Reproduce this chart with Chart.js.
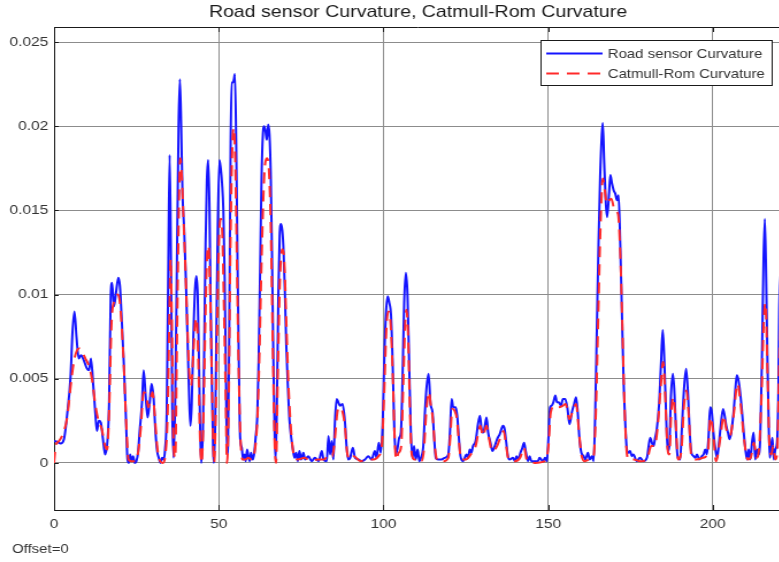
<!DOCTYPE html>
<html>
<head>
<meta charset="utf-8">
<title>Road sensor Curvature, Catmull-Rom Curvature</title>
<script src="https://cdn.jsdelivr.net/npm/chart.js@4/dist/chart.umd.min.js"></script>
<style>
  html, body { margin: 0; padding: 0; background: #fff; overflow: hidden; }
  #wrap { width: 790px; height: 562px; overflow: hidden; }
</style>
</head>
<body>
<div id="wrap">
  <!-- drawn narrower and stretched a little in x, like the original figure export -->
  <canvas id="curv" width="687" height="562" style="width:790px;height:562px"></canvas>
</div>
<script>
// Road sensor curvature vs Catmull-Rom curvature, offset 0.

const TITLE = "Road sensor Curvature, Catmull-Rom Curvature";
const SERIES_NAMES = ["Road sensor Curvature", "Catmull-Rom Curvature"];
const FOOTNOTE = "Offset=0";

const X_TICKS = [0, 50, 100, 150, 200];
const Y_TICKS = [0, 0.005, 0.01, 0.015, 0.02, 0.025];
const Y_TICK_LABELS = ["0", "0.005", "0.01", "0.015", "0.02", "0.025"];

// Road sensor curvature (blue, solid)
const sensorX = [
  0, 1, 2, 3, 4, 5, 5.6, 6.2, 6.8, 7.5, 8.2, 9, 10, 10.6, 11.2, 11.9, 12.5, 13, 13.6, 14.2,
  14.8, 15.5, 16.2, 16.7, 17.2, 17.6, 18.2, 18.8, 19.5, 20, 20.6, 21.2, 21.8, 22.3, 22.7, 23.1,
  23.5, 24, 24.5, 25, 25.5, 26, 26.7, 27.2, 27.8, 28.4, 29, 29.6, 30.2, 30.8, 31.3, 31.8, 32.3,
  32.8, 33.3, 33.7, 34.2, 34.7, 35.1, 35.5, 35.9, 36.3, 36.8, 37.3, 37.8, 38.2, 38.6, 39.0,
  39.5, 40.0, 40.5, 41.0, 41.4, 41.8, 42.3, 42.8, 43.2, 43.6, 44.0, 44.4, 44.7, 45.2, 45.6,
  46.0, 46.4, 46.8, 47.2, 47.5, 47.9, 48.3, 48.5, 48.9, 49.3, 49.7, 50.2, 50.6, 51.0, 51.4,
  51.8, 52.2, 52.5, 52.8, 53.2, 53.6, 53.9, 54.3, 54.6, 54.9, 55.3, 55.7, 56.1, 56.5, 57.0,
  57.4, 57.8, 58.2, 58.6, 59.0, 59.4, 59.8, 60.3, 60.8, 61.2, 61.7, 62.1, 62.6, 63.0, 63.4,
  63.8, 64.2, 64.6, 65.0, 65.4, 65.8, 66.2, 66.6, 67.0, 67.3, 67.7, 68.1, 68.5, 68.9, 69.3,
  69.7, 70.1, 70.5, 71.0, 71.5, 72.0, 72.5, 73.0, 73.5, 74.0, 74.5, 75.0, 75.7, 76.2, 77.2,
  78.2, 79.2, 80.3, 81.3, 81.8, 82.8, 83.3, 83.8, 84.3, 84.8, 85.3, 85.8, 86.3, 86.8, 87.6,
  88.3, 88.8, 89.3, 89.9, 90.7, 91.4, 92.4, 93.4, 94.4, 95.4, 96.4, 97.4, 97.9, 98.6, 99.2,
  99.8, 100.3, 100.8, 101.3, 101.8, 102.3, 102.8, 103.3, 103.8, 104.3, 104.8, 105.3, 105.8,
  106.3, 106.8, 107.3, 107.8, 108.3, 108.8, 109.3, 109.8, 110.4, 110.9, 111.4, 112.1, 112.6,
  113.1, 113.7, 114.3, 114.9, 115.4, 115.9, 116.6, 117.6, 118.6, 119.7, 120.2, 120.7, 121.2,
  121.9, 122.4, 122.9, 123.4, 124.2, 125.2, 125.7, 126.2, 126.7, 127.2, 128.0, 128.7, 129.3,
  129.8, 130.3, 130.8, 131.3, 131.8, 132.5, 133.1, 133.8, 134.5, 135.3, 136.3, 136.8, 137.3,
  137.8, 138.3, 139.3, 139.9, 140.4, 140.9, 141.6, 142.2, 142.7, 143.2, 143.9, 144.4, 144.9,
  145.9, 146.9, 147.4, 148.4, 149.1, 149.6, 150.1, 150.6, 151.1, 151.6, 152.2, 152.7, 153.2,
  153.9, 154.5, 155.2, 155.9, 156.5, 157.2, 157.9, 158.5, 159.0, 159.5, 160.1, 160.8, 161.3,
  162.1, 162.6, 163.3, 163.8, 164.3, 164.8, 165.3, 165.8, 166.3, 166.6, 167.0, 167.5, 167.9,
  168.5, 168.9, 169.4, 169.9, 170.4, 170.9, 171.4, 171.9, 172.4, 172.9, 173.4, 173.9, 174.4,
  174.9, 175.4, 175.9, 176.9, 177.9, 179.0, 180.0, 181.0, 181.5, 182.0, 182.5, 183.0, 183.7,
  184.3, 184.8, 185.3, 185.8, 186.3, 186.8, 187.3, 187.9, 188.4, 188.9, 189.4, 190.1, 190.6,
  191.3, 191.9, 192.5, 193.0, 193.5, 194.2, 194.7, 195.2, 195.9, 196.7, 197.2, 197.7, 198.2,
  198.7, 199.2, 199.7, 200.2, 200.8, 201.3, 201.8, 202.3, 203.1, 203.6, 204.1, 204.6, 205.1,
  205.6, 206.3, 206.9, 207.3, 207.8, 208.3, 208.9, 209.4, 209.9, 210.4, 210.9, 211.4, 211.9,
  212.4, 212.9, 213.4, 213.9, 214.4, 214.9, 215.4, 215.8, 216.2, 216.6, 217.0, 217.3, 217.7,
  218.1, 218.5, 219.0, 219.5, 219.9, 220.2, 220.6, 221.2
];
const sensorY = [
  0.0013, 0.00125, 0.00115, 0.0014, 0.0029, 0.0051, 0.0078, 0.0090, 0.0075, 0.0062, 0.0064,
  0.0061, 0.0056, 0.0055, 0.0062, 0.0046, 0.0030, 0.0019, 0.0025, 0.0024, 0.0015, 0.0005,
  0.0013, 0.0035, 0.0099, 0.0107, 0.0093, 0.0101, 0.0110, 0.0105, 0.0083, 0.0058, 0.0028,
  0.0002, 0.0000, 0.0005, 0.0001, 0.0004, 0.0000, 0.0001, 0.0006, 0.0019, 0.0036, 0.0055,
  0.0040, 0.0027, 0.0035, 0.0047, 0.0039, 0.0018, 0.0007, 0.0003, 0.0000, 0.0003, 0.0002,
  0.0008, 0.0030, 0.0120, 0.0183, 0.0120, 0.0030, 0.0003, 0.0040, 0.0120, 0.0200, 0.0228,
  0.0200, 0.0160, 0.0139, 0.0110, 0.0075, 0.0040, 0.0022, 0.0035, 0.0075, 0.0103, 0.0111,
  0.0100, 0.0060, 0.0015, 0.0000, 0.0020, 0.0070, 0.0130, 0.0168, 0.0180, 0.0150, 0.0100,
  0.0050, 0.0008, 0.0000, 0.0020, 0.0080, 0.0140, 0.0180, 0.0175, 0.0166, 0.0150, 0.0110,
  0.0050, 0.0005, 0.0010, 0.0080, 0.0188, 0.0226, 0.0226, 0.0228, 0.0231, 0.0190, 0.0120,
  0.0060, 0.0015, 0.0009, 0.0002, 0.0005, 0.0001, 0.0008, 0.0004, 0.0001, 0.0006, 0.0002,
  0.0006, 0.0015, 0.0028, 0.0060, 0.0120, 0.0170, 0.0195, 0.0200, 0.0197, 0.0192, 0.0201,
  0.0195, 0.0170, 0.0120, 0.0060, 0.0015, 0.0002, 0.0040, 0.0100, 0.0135, 0.0142, 0.0138,
  0.0125, 0.0100, 0.0070, 0.0045, 0.0025, 0.0015, 0.0008, 0.0003, 0.0006, 0.0001, 0.0007,
  0.0002, 0.0006, 0.0002, 0.0004, 0.0001, 0.0003, 0.0001, 0.0007, 0.0002, 0.0001, 0.0016,
  0.0005, 0.0013, 0.0002, 0.0025, 0.0038, 0.0036, 0.0034, 0.0035, 0.0025, 0.0010, 0.0002,
  0.0003, 0.0009, 0.0003, 0.0002, 0.0001, 0.0002, 0.0004, 0.0002, 0.0007, 0.0003, 0.0012,
  0.0006, 0.0025, 0.0065, 0.0090, 0.0099, 0.0095, 0.0088, 0.0060, 0.0020, 0.0005, 0.0009,
  0.0015, 0.0018, 0.0050, 0.0095, 0.0113, 0.0100, 0.0060, 0.0020, 0.0003, 0.0010, 0.0002,
  0.0008, 0.0001, 0.0003, 0.0010, 0.0030, 0.0045, 0.0053, 0.0035, 0.0030, 0.0015, 0.0003,
  0.0002, 0.0002, 0.0003, 0.0005, 0.0018, 0.0038, 0.0033, 0.0033, 0.0028, 0.0015, 0.0004,
  0.0001, 0.0005, 0.0003, 0.0008, 0.0006, 0.0010, 0.0013, 0.0023, 0.0028, 0.0020, 0.0018,
  0.0022, 0.0027, 0.0018, 0.0012, 0.0007, 0.0010, 0.0014, 0.0017, 0.0022, 0.0020, 0.0012,
  0.0004, 0.0002, 0.0003, 0.0001, 0.0004, 0.0002, 0.0006, 0.0009, 0.0012, 0.0007, 0.0001,
  0.0004, 0.0001, 0.0001, 0.0001, 0.0003, 0.0001, 0.0003, 0.0001, 0.0015, 0.0033, 0.0034,
  0.0036, 0.0040, 0.0036, 0.0036, 0.0034, 0.0038, 0.0038, 0.0032, 0.0023, 0.0030, 0.0035,
  0.0039, 0.0030, 0.0015, 0.0006, 0.0004, 0.0002, 0.0006, 0.0002, 0.0004, 0.0001, 0.0030,
  0.0080, 0.0130, 0.0170, 0.0195, 0.0202, 0.0180, 0.0155, 0.0146, 0.0160, 0.0171, 0.0166,
  0.0162, 0.0160, 0.0156, 0.0159, 0.0130, 0.0090, 0.0050, 0.0025, 0.0008, 0.0006, 0.0007,
  0.0004, 0.0005, 0.0001, 0.0003, 0.0001, 0.0003, 0.0015, 0.0012, 0.0010, 0.0015, 0.0020,
  0.0035, 0.0060, 0.0079, 0.0060, 0.0030, 0.0007, 0.0010, 0.0040, 0.0053, 0.0040, 0.0015,
  0.0003, 0.0002, 0.0020, 0.0045, 0.0056, 0.0040, 0.0018, 0.0006, 0.0004, 0.0003, 0.0005,
  0.0002, 0.0004, 0.0005, 0.0008, 0.0005, 0.0015, 0.0033, 0.0030, 0.0018, 0.0008, 0.0003,
  0.0010, 0.0020, 0.0032, 0.0028, 0.0022, 0.0018, 0.0014, 0.0018, 0.0030, 0.0045, 0.0052,
  0.0049, 0.0042, 0.0030, 0.0018, 0.0008, 0.0002, 0.0008, 0.0002, 0.0012, 0.0018, 0.0002,
  0.0008, 0.0005, 0.0015, 0.0060, 0.0120, 0.0145, 0.0110, 0.0060, 0.0020, 0.0003, 0.0010,
  0.0015, 0.0002, 0.0008, 0.0012, 0.0040, 0.0093, 0.0110, 0.0125
];

// Catmull-Rom curvature (red, dashed)
const catmullX = [
  0, 0.5, 1.5, 3, 4, 5, 6, 7, 7.7, 8.5, 9.5, 10.5, 11.5, 12.5, 13.5, 14.5, 15.5, 16.1, 16.7,
  17.5, 18.5, 19.3, 20, 21, 22, 22.6, 23.5, 24.5, 25.5, 26.3, 27.2, 28, 28.6, 29.3, 29.9, 30.5,
  31.3, 32, 33, 33.8, 34.5, 35.0, 35.4, 35.8, 36.3, 36.8, 37.3, 37.8, 38.3, 38.8, 39.3, 39.8,
  40.5, 41.0, 41.6, 42.3, 42.8, 43.3, 43.8, 44.3, 44.8, 45.4, 45.9, 46.4, 46.9, 47.4, 47.9,
  48.6, 49.2, 49.7, 50.2, 50.6, 51.1, 51.6, 52.1, 52.5, 53.0, 53.5, 54.0, 54.5, 55.0, 55.5,
  56.0, 56.6, 57.2, 58, 59, 60, 61, 61.7, 62.3, 63, 63.8, 64.6, 65.2, 65.8, 66.4, 67.0, 67.4,
  68.0, 68.6, 69.3, 69.9, 70.5, 71.2, 72.0, 73.0, 74, 76, 78, 80, 82, 83.5, 84.5, 85.3, 86.0,
  86.6, 87.5, 88.3, 89.0, 90, 91, 93, 95, 97, 98.5, 99.5, 100.2, 100.9, 101.5, 102.1, 102.8,
  103.4, 103.9, 104.6, 105.4, 106.0, 106.6, 107.0, 107.5, 108.0, 108.6, 109.5, 110.5, 111.5,
  112.3, 113.0, 113.8, 114.4, 115.0, 115.7, 116.5, 118, 119.7, 120.3, 120.9, 121.6, 122.3,
  122.9, 123.6, 125, 126.5, 128, 128.8, 129.4, 130.2, 131.3, 132, 133, 134.5, 135.5, 136.5,
  137.2, 138, 140, 141.5, 142.7, 143.5, 146, 149, 150.1, 150.8, 152.0, 153.2, 154.5, 155.3,
  156.5, 157.5, 158.5, 159.3, 160.1, 161, 162.5, 163.8, 164.5, 165.2, 165.9, 166.6, 167.2,
  167.8, 168.5, 169.2, 170.2, 171.2, 171.9, 172.5, 173.1, 173.8, 174.5, 176, 178, 180, 181.3,
  182.3, 183.2, 184.2, 184.9, 185.5, 186.2, 186.8, 187.4, 188.0, 188.6, 189.5, 190.5, 191.3,
  192.0, 192.7, 193.5, 195, 197, 198.5, 199.3, 200.0, 201.0, 202.3, 203.3, 204.1, 205.2,
  206.3, 207.5, 208.4, 209.5, 210.6, 211.5, 212.5, 213.3, 214.0, 214.8, 215.5, 216.0, 216.6,
  217.2, 217.8, 218.3, 219.0, 219.6, 220.2, 220.8, 221.2
];
const catmullY = [
  0, 0.0010, 0.0013, 0.0019, 0.0027, 0.0045, 0.0060, 0.0067, 0.0068, 0.0066, 0.0062, 0.0058,
  0.0050, 0.0035, 0.0025, 0.0020, 0.0010, 0.0008, 0.0030, 0.0085, 0.0097, 0.0100, 0.0095,
  0.0065, 0.0020, 0.0002, 0.0001, 0.0001, 0.0006, 0.0020, 0.0042, 0.0040, 0.0033, 0.0038,
  0.0042, 0.0030, 0.0010, 0.0002, 0, 0.0005, 0.0030, 0.0085, 0.0121, 0.0080, 0.0010, 0.0003,
  0.0070, 0.0140, 0.0181, 0.0170, 0.0145, 0.0120, 0.0080, 0.0055, 0.0046, 0.0065, 0.0082,
  0.0086, 0.0060, 0.0015, 0, 0.0030, 0.0080, 0.0120, 0.0129, 0.0100, 0.0050, 0, 0.0040,
  0.0100, 0.0138, 0.0145, 0.0135, 0.0090, 0.0040, 0.0000, 0.0030, 0.0120, 0.0180, 0.0199,
  0.0180, 0.0120, 0.0060, 0.0015, 0.0002, 0.0002, 0.0003, 0.0002, 0.0008, 0.0025, 0.0060,
  0.0120, 0.0170, 0.0181, 0.0175, 0.0140, 0.0070, 0.0010, 0, 0.0060, 0.0110, 0.0127, 0.0120,
  0.0085, 0.0045, 0.0018, 0.0003, 0.0002, 0.0003, 0.0001, 0.0002, 0.0002, 0.0005, 0.0004,
  0.0015, 0.0030, 0.0033, 0.0031, 0.0022, 0.0006, 0.0002, 0.0004, 0.0001, 0.0002, 0.0002,
  0.0004, 0.0010, 0.0040, 0.0080, 0.0090, 0.0085, 0.0055, 0.0015, 0.0002, 0.0006, 0.0010,
  0.0045, 0.0082, 0.0091, 0.0075, 0.0035, 0.0005, 0.0002, 0.0003, 0.0001, 0.0008, 0.0030,
  0.0042, 0.0034, 0.0026, 0.0008, 0.0001, 0.0001, 0.0003, 0.0015, 0.0032, 0.0031, 0.0026,
  0.0013, 0.0002, 0.0002, 0.0005, 0.0010, 0.0018, 0.0022, 0.0016, 0.0022, 0.0015, 0.0007,
  0.0010, 0.0015, 0.0019, 0.0011, 0.0002, 0.0001, 0.0003, 0.0009, 0.0002, 0, 0.0001, 0.0010,
  0.0030, 0.0034, 0.0033, 0.0034, 0.0035, 0.0026, 0.0031, 0.0035, 0.0020, 0.0005, 0.0001,
  0.0002, 0.0004, 0.0030, 0.0085, 0.0140, 0.0169, 0.0162, 0.0154, 0.0156, 0.0157, 0.0150,
  0.0148, 0.0125, 0.0085, 0.0040, 0.0008, 0.0002, 0.0002, 0.0001, 0.0002, 0.0010, 0.0010,
  0.0020, 0.0045, 0.0060, 0.0042, 0.0010, 0.0005, 0.0030, 0.0039, 0.0028, 0.0002, 0.0008,
  0.0035, 0.0043, 0.0028, 0.0004, 0.0002, 0.0003, 0.0006, 0.0027, 0.0020, 0.0001, 0.0015,
  0.0028, 0.0020, 0.0016, 0.0028, 0.0047, 0.0036, 0.0014, 0.0002, 0.0003, 0.0012, 0.0003,
  0.0008, 0.0040, 0.0085, 0.0095, 0.0055, 0.0010, 0.0005, 0.0010, 0.0002, 0.0008, 0.0060,
  0.0085, 0.0095
];

const BLUE = "#1414ff";
const RED = "#ff2a2a";
const RED_DASH = [11, 7];
const LINE_W = 2;
const TEXT = "#333333";
const FONT = '"Liberation Sans", Arial, sans-serif';

function toPoints(xs, ys) {
  return xs.map((x, i) => ({ x, y: ys[i] }));
}

// Title, boxed axes, inward ticks, legend and footnote in MATLAB style.
const figureDecor = {
  id: "figureDecor",
  afterDatasetsDraw(chart) {
    const { ctx, chartArea: a, scales } = chart;
    ctx.save();

    // top edge of the axes box
    ctx.strokeStyle = "#1a1a1a";
    ctx.lineWidth = 1;
    ctx.beginPath();
    ctx.moveTo(a.left, Math.round(a.top) + 0.5);
    ctx.lineTo(a.right, Math.round(a.top) + 0.5);
    ctx.stroke();

    // inward tick marks
    ctx.beginPath();
    for (const v of X_TICKS) {
      const px = Math.round(scales.x.getPixelForValue(v)) + 0.5;
      ctx.moveTo(px, a.bottom); ctx.lineTo(px, a.bottom - 5);
      ctx.moveTo(px, a.top); ctx.lineTo(px, a.top + 5);
    }
    for (const v of Y_TICKS) {
      const py = Math.round(scales.y.getPixelForValue(v)) + 0.5;
      ctx.moveTo(a.left, py); ctx.lineTo(a.left + 4, py);
    }
    ctx.stroke();

    // legend, inside the axes, top right
    const lx = 470.5, ly = 40.5, lw = 201, lh = 45;
    ctx.fillStyle = "#fff";
    ctx.fillRect(lx, ly, lw, lh);
    ctx.strokeStyle = "#1a1a1a";
    ctx.strokeRect(lx, ly, lw, lh);

    const rows = [
      { y: 53.5, color: BLUE, dash: [] },
      { y: 73.5, color: RED, dash: RED_DASH },
    ];
    rows.forEach((r, i) => {
      ctx.strokeStyle = r.color;
      ctx.lineWidth = LINE_W;
      ctx.setLineDash(r.dash);
      ctx.beginPath();
      ctx.moveTo(475, r.y);
      ctx.lineTo(524, r.y);
      ctx.stroke();
      ctx.setLineDash([]);
      ctx.fillStyle = TEXT;
      ctx.font = "13px " + FONT;
      ctx.textAlign = "left";
      ctx.textBaseline = "middle";
      ctx.fillText(SERIES_NAMES[i], 528.5, r.y + 0.5);
    });
    ctx.restore();
  },
  afterDraw(chart) {
    const { ctx, chartArea: a } = chart;
    ctx.save();
    ctx.fillStyle = "#1a1a1a";
    ctx.font = "17px " + FONT;
    ctx.textAlign = "center";
    ctx.textBaseline = "middle";
    ctx.fillText(TITLE, (a.left + a.right) / 2, 12);

    ctx.fillStyle = TEXT;
    ctx.font = "13px " + FONT;
    ctx.textAlign = "left";
    ctx.textBaseline = "alphabetic";
    ctx.fillText(FOOTNOTE, 10.5, 553);
    ctx.restore();
  },
};

new Chart(document.getElementById("curv"), {
  type: "line",
  data: {
    datasets: [
      {
        label: SERIES_NAMES[0],
        data: toPoints(sensorX, sensorY),
        borderColor: BLUE,
        borderWidth: LINE_W,
        pointRadius: 0,
        fill: false,
        cubicInterpolationMode: "monotone",
        order: 2,
      },
      {
        label: SERIES_NAMES[1],
        data: toPoints(catmullX, catmullY),
        borderColor: RED,
        borderWidth: LINE_W,
        borderDash: RED_DASH,
        pointRadius: 0,
        fill: false,
        cubicInterpolationMode: "monotone",
        order: 1,
      },
    ],
  },
  options: {
    responsive: false,
    animation: false,
    devicePixelRatio: 1,
    layout: { padding: { top: 27, right: 7, left: 0, bottom: 0 } },
    plugins: {
      legend: { display: false },
      title: { display: false },
      tooltip: { enabled: false },
    },
    scales: {
      x: {
        type: "linear",
        min: 0,
        max: 221,
        afterFit: s => { s.height = 52; },
        afterBuildTicks: s => { s.ticks = X_TICKS.map(v => ({ value: v })); },
        grid: { color: "#8c8c8c", lineWidth: 1, drawTicks: false },
        border: { display: true, color: "#1a1a1a", width: 1 },
        ticks: {
          autoSkip: false,
          maxRotation: 0,
          padding: 6,
          color: TEXT,
          font: { family: FONT, size: 13.5 },
          callback: v => String(v),
        },
      },
      y: {
        type: "linear",
        min: -0.0028,
        max: 0.0259,
        afterFit: s => { s.width = 47; },
        afterBuildTicks: s => { s.ticks = Y_TICKS.map(v => ({ value: v })); },
        grid: { color: "#8c8c8c", lineWidth: 1, drawTicks: false },
        border: { display: true, color: "#1a1a1a", width: 1 },
        ticks: {
          padding: 5,
          color: TEXT,
          font: { family: FONT, size: 13.5 },
          callback: v => Y_TICK_LABELS[Y_TICKS.indexOf(v)] ?? String(v),
        },
      },
    },
  },
  plugins: [figureDecor],
});
</script>
</body>
</html>
